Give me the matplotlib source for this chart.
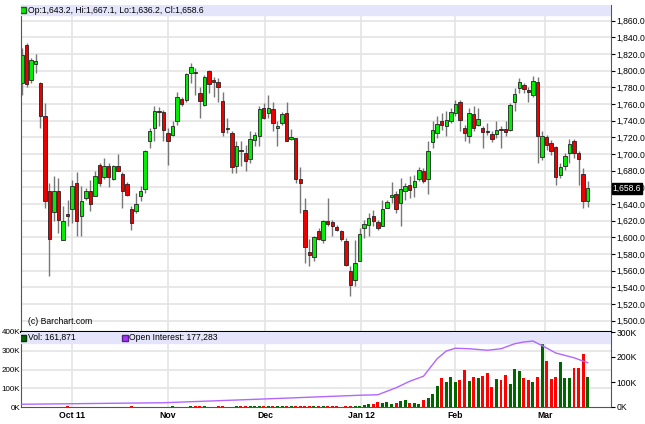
import matplotlib
matplotlib.use("Agg")
import matplotlib.pyplot as plt
import numpy as np

plt.rcParams["font.family"] = "Liberation Sans"

opens = [1785,1831,1789,1808,1785,1746,1655,1630,1655,1597,1628,1634,1665,1626,1647,1655,1649,1687,1672,1686,
         1670,1686,1676,1664,1634,1631,1649,1658,1715,1731,1752,1750,1725,1723,1740,1766,1765,1797,1798,1773,
         1759,1800,1789,1786,1764,1730,1725,1686,1705,1701,1694,1717,1721,1755,1749,1754,1731,1737,1749,1718,
         1719,1670,1633,1582,1576,1608,1597,1620,1618,1612,1608,1596,1559,1549,1572,1611,1615,1626,1618,1613,
         1635,1648,1652,1641,1656,1663,1660,1670,1680,1670,1714,1725,1740,1734,1740,1749,1762,1731,1722,1748,
         1735,1731,1728,1724,1724,1730,1730,1729,1762,1779,1783,1777,1771,1787,1696,1720,1713,1708,1675,1685,
         1701,1716,1701,1676,1643.2]
highs = [1827,1833,1815,1820,1787,1761,1665,1673,1671,1637,1645,1669,1678,1661,1659,1669,1679,1689,1695,1689,
         1687,1700,1678,1666,1637,1653,1661,1705,1731,1757,1756,1753,1731,1739,1774,1769,1797,1809,1803,1781,
         1795,1801,1793,1791,1775,1743,1727,1715,1715,1711,1727,1726,1757,1761,1771,1762,1739,1750,1763,1730,
         1719,1684,1647,1598,1601,1611,1621,1647,1621,1615,1609,1599,1565,1597,1611,1621,1629,1633,1621,1645,
         1645,1666,1655,1671,1665,1673,1675,1684,1683,1715,1739,1745,1749,1751,1755,1765,1765,1735,1755,1757,
         1755,1733,1737,1727,1739,1733,1739,1761,1779,1791,1785,1781,1794,1793,1727,1723,1717,1710,1689,1701,
         1718,1718,1703,1683,1667.1]
lows = [1771,1780,1785,1797,1731,1635,1553,1619,1605,1597,1613,1617,1601,1601,1645,1631,1649,1661,1670,1660,
        1669,1680,1635,1649,1609,1629,1643,1653,1707,1716,1733,1716,1687,1721,1735,1757,1763,1785,1771,1743,
        1757,1773,1769,1762,1721,1725,1677,1677,1685,1680,1689,1709,1709,1742,1743,1727,1709,1735,1715,1717,
        1665,1629,1569,1565,1571,1597,1593,1613,1601,1607,1595,1565,1529,1541,1571,1599,1601,1613,1609,1613,
        1635,1641,1629,1614,1645,1647,1648,1667,1665,1652,1707,1719,1729,1721,1737,1745,1727,1715,1713,1727,
        1733,1707,1723,1714,1719,1707,1721,1728,1752,1773,1773,1763,1769,1689,1693,1705,1699,1663,1671,1681,
        1689,1695,1663,1635,1636.2]
closes = [1819,1784,1813,1812,1746,1643,1598,1655,1621,1620,1626,1661,1620,1644,1656,1640,1674,1665,1686,1672,
          1686,1680,1656,1651,1617,1640,1656,1704,1728,1752,1750,1729,1716,1734,1769,1760,1796,1804,1797,1764,
          1793,1784,1787,1780,1726,1731,1684,1709,1703,1692,1718,1723,1754,1743,1755,1737,1734,1748,1716,1720,
          1670,1665,1588,1579,1600,1598,1619,1616,1613,1609,1598,1567,1543,1569,1604,1616,1623,1620,1611,1634,
          1642,1651,1634,1658,1662,1657,1667,1681,1668,1704,1729,1736,1735,1741,1750,1760,1741,1725,1749,1731,
          1742,1726,1726,1718,1729,1729,1726,1759,1772,1787,1778,1775,1788,1721,1722,1711,1704,1672,1684,1698,
          1712,1701,1694,1644,1658.6]

# volume in thousands per candle
volume = [1,1,1,1,1,1,1,1,1,1,3,1,1,1,1,1,1,1,1,1,1,1,1,1,3,1,1,1,1,1,
          1,1,1,3,1,1,1,4,3,4,3,1,1,3,3,1,1,3,3,3,4,3,3,3,4,3,3,3,3,4,
          3,3,4,3,3,3,5,3,3,3,1,3,3,3,3,
          9,15,18,27,24,25,18,24,33,40,22,22,15,36,47,69,113,153,136,158,
          131,145,195,138,160,155,165,182,105,151,142,169,122,205,191,153,142,131,160,345,
          244,149,160,238,155,155,209,209,282,160]
oi_idx = [0,31,53,74,78,82,85,88,91,93,95,98,102,105,108,110,112,115,117,121,124]
oi_val = [11,17,32,47,49,77,103,123,193,224,235,233,227,233,253,260,264,236,216,197,177]

tick_pos = [10.96, 32.0, 53.3, 74.3, 94.9, 114.6]
tick_lab = ["Oct 11", "Nov", "Dec", "Jan 12", "Feb", "Mar"]

FS = 6.2
W, H = 645, 424
fig = plt.figure(figsize=(W/100, H/100), dpi=100)
L, R = 21/W, 611/W
n = len(opens)
x = np.arange(n)
xlim = ((21-22)/4.562, (611-22)/4.562)

ax = fig.add_axes([L, 1-332/H, R-L, (332-5)/H])
ax.set_xlim(*xlim)
ylo = 1860 - (332-20.7)/0.833
yhi = 1860 + (20.7-5)/0.833
ax.set_ylim(ylo, yhi)
for yv in range(1500, 1861, 20):
    ax.axhline(yv, color="#e4e4e4", lw=1.2, zorder=0)
for t in tick_pos:
    ax.axvline(t, color="#e4e4e4", lw=1.2, zorder=0)
for i in range(n):
    up = closes[i] >= opens[i]
    ax.vlines(x[i], lows[i], highs[i], color="#777777", lw=1, zorder=1)
    b, t = min(opens[i], closes[i]), max(opens[i], closes[i])
    ax.bar(x[i], max(t-b, 0.8), bottom=b, width=0.75, color="#00ee00" if up else "#ee0000",
           edgecolor="#222222", lw=0.6, zorder=2)
ax.set_xticks([])
ax.yaxis.tick_right()
ax.set_yticks(range(1500, 1861, 20))
ax.set_yticklabels([f"{v:,.1f}" for v in range(1500, 1861, 20)], fontsize=FS)
ax.tick_params(axis="y", length=3, pad=1)
ax.spines["top"].set_visible(False)
ax.spines["bottom"].set_visible(False)
ax.spines["left"].set_color("#555555")
ax.spines["right"].set_color("#555555")
ax.axhspan(yhi-10/0.833, yhi, color="#e4e4fa", zorder=3)
ax.plot([0.3], [yhi-5/0.833], marker="s", ms=5, color="#00ee00", mec="#225522", zorder=4)
ax.text(1.3, yhi-5/0.833, "Op:1,643.2, Hi:1,667.1, Lo:1,636.2, Cl:1,658.6", fontsize=FS,
        va="center", ha="left", zorder=4)
ax.text(1.3, 1860-(322-20.7)/0.833, "(c) Barchart.com", fontsize=FS, va="center", ha="left")
ax.text(1.003, (closes[-1]-ylo)/(yhi-ylo), f"{closes[-1]:,.1f}", transform=ax.transAxes,
        fontsize=FS, color="white", va="center", ha="left",
        bbox=dict(boxstyle="square,pad=0.1", fc="black", ec="black"))

av = fig.add_axes([L, 1-407/H, R-L, (407-332)/H])
av.set_xlim(*xlim)
av.set_ylim(0, 400)
for t in tick_pos:
    av.axvline(t, color="#e4e4e4", lw=1.2, zorder=0)
for yv in (100, 200, 300):
    av.axhline(yv, color="#e4e4e4", lw=1.2, zorder=0)
vcol = ["#006600" if closes[i] >= opens[i] else "#ff0000" for i in range(n)]
av.bar(x, volume, width=0.65, color=vcol, zorder=2)
av.axhspan(400-11*400/75, 400, color="#e4e4fa", zorder=3)
yb = 400-5.5*400/75
av.plot([0.3], [yb], marker="s", ms=5, color="#006600", mec="#003300", zorder=4)
av.text(1.3, yb, "Vol: 161,871", fontsize=FS, va="center", zorder=4)
av.plot([22.5], [yb], marker="s", ms=5, color="#aa33ff", mec="#552288", zorder=4)
av.text(23.5, yb, "Open Interest: 177,283", fontsize=FS, va="center", zorder=4)
av.set_yticks([0, 100, 200, 300, 400])
av.set_yticklabels(["0K", "100K", "200K", "300K", "400K"], fontsize=5.8)
av.tick_params(axis="y", length=0, pad=0.5)
av.set_xticks(tick_pos)
av.set_xticklabels(tick_lab, fontsize=FS, fontweight="bold")
av.tick_params(axis="x", length=0, pad=3)
for s in av.spines.values():
    s.set_color("#555555")
av.spines["top"].set_color("black")
av.spines["top"].set_linewidth(1.5)
ao = av.twinx()
ao.set_ylim(0, 300)
ao.plot(oi_idx, oi_val, color="#b366ff", lw=1, zorder=5)
ao.set_yticks([0, 100, 200, 300])
ao.set_yticklabels(["0K", "100K", "200K", "300K"], fontsize=FS)
ao.tick_params(axis="y", length=3, pad=1)
for s in ao.spines.values():
    s.set_visible(False)

fig.savefig("out.png", dpi=100)
